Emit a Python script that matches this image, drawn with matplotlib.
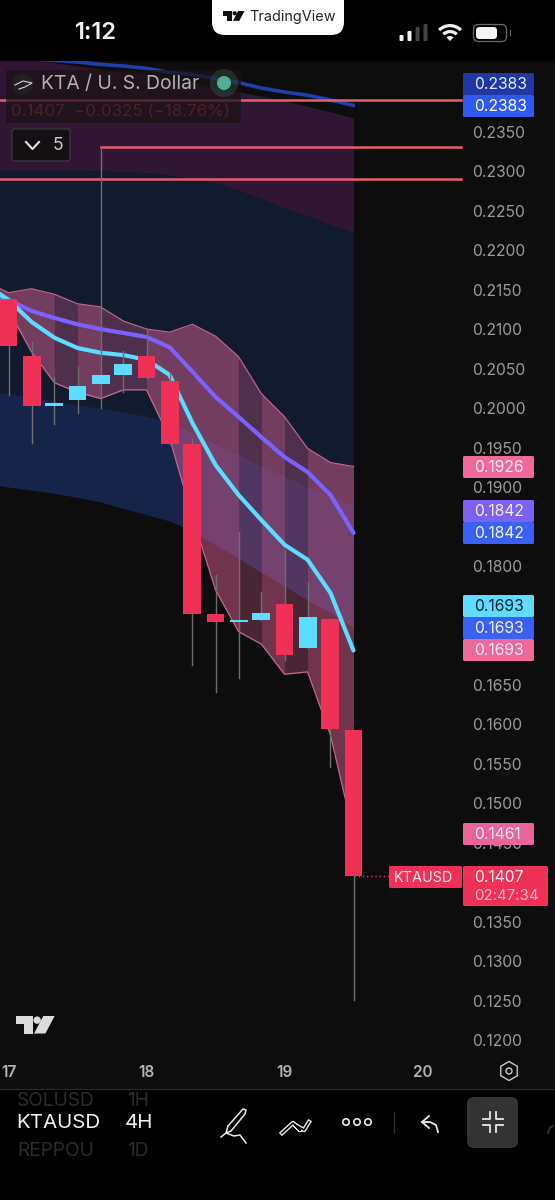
import matplotlib
matplotlib.use('Agg')
import matplotlib.pyplot as plt
from matplotlib.patches import Rectangle, FancyBboxPatch, Circle, Polygon, RegularPolygon, Arc, Wedge

plt.rcParams['font.family'] = ['Inter', 'DejaVu Sans']

# 4H candles
candle_days = [17.0, 17.167, 17.333, 17.5, 17.667, 17.833, 18.0, 18.167, 18.333, 18.5,
               18.667, 18.833, 19.0, 19.167, 19.333, 19.5]
opens = [.2138, .2066, .2003, .2010, .2030, .2042, .2066, .2034, .1954, .1739,
         .1729, .1732, .1752, .1696, .1733, .1592]
highs = [.2138, .2084, .2039, .2052, .2330, .2072, .2099, .2044, .1961, .1789,
         .1843, .1767, .1820, .1780, .1733, .1592]
lows = [.2016, .1956, .1980, .1994, .2000, .2020, .2038, .1954, .1675, .1641,
        .1658, .1732, .1681, .1696, .1546, .1251]
closes = [.2078, .2003, .2006, .2028, .2042, .2056, .2038, .1954, .1739, .1729,
          .1732, .1741, .1687, .1735, .1594, .1407]

# indicators, one extra point left of the first candle
ind_days = [16.833] + candle_days
bb_upper = [.2160, .2146, .2151, .2144, .2132, .2128, .2110, .2100, .2096, .2106,
            .2091, .2065, .2018, .1989, .1949, .1931, .1926]
bb_lower = [.2140, .2124, .2071, .2032, .2020, .2012, .2023, .2023, .1962, .1862,
            .1770, .1717, .1701, .1663, .1666, .1586, .1461]
ema_slow = [.2149, .2137, .2123, .2114, .2106, .2100, .2095, .2090, .2077, .2046,
            .2014, .1989, .1963, .1938, .1919, .1890, .1842]
ema_fast = [.2156, .2137, .2109, .2089, .2076, .2070, .2067, .2061, .2042, .1981,
            .1928, .1890, .1858, .1827, .1808, .1766, .1693]
blue_line = [.2444, .2443, .2442, .2440, .2438, .2435, .2433, .2430, .2425, .2422,
             .2417, .2412, .2405, .2400, .2396, .2390, .2383]
cloud_top = [.2447, .2443, .2441, .2437, .2433, .2429, .2425, .2422, .2417, .2412,
             .2405, .2400, .2395, .2389, .2382, .2375, .2367]
navy_top = [.2301, .2301, .2301, .2301, .2301, .2300, .2299, .2298, .2295, .2289,
            .2285, .2275, .2265, .2253, .2243, .2232, .2222]
bright_top = [.2023, .2018, .2013, .2009, .2004, .2000, .1995, .1990, .1982, .1968,
              .1954, .1941, .1927, .1914, .1900, .1889, .1877]
bright_low = [.1905, .1900, .1896, .1892, .1887, .1881, .1873, .1865, .1857, .1844,
              .1827, .1810, .1792, .1775, .1757, .1741, .1722]
dark_columns = [3, 5, 6, 11, 13]

# drawn levels: price, start day
levels = [.2390, .2330, .2290]
level_starts = [16.9, 17.667, 16.9]
level_end = 20.28

price_ticks = [.1200, .1250, .1300, .1350, .1450, .1500, .1550, .1600, .1650, .1800,
               .1900, .1950, .2000, .2050, .2100, .2150, .2200, .2250, .2300, .2350]
day_ticks = [17, 18, 19, 20]

label_texts = ['0.2383', '0.2383', '0.1926', '0.1842', '0.1842', '0.1693', '0.1693', '0.1693', '0.1461']
label_tops = [73, 95, 456, 500, 522, 595, 617, 639, 823]
label_colors = ['#1f38a6', '#3059ee', '#ee6a9b', '#7d62f2', '#3a61f2', '#5fdcff', '#3a61f2', '#ee6a9b', '#e9659a']
label_inks = ['#e8ecff', '#ffffff', '#ffe8f0', '#f2eeff', '#f0f3ff', '#06222e', '#f0f3ff', '#ffe8f0', '#ffe8f0']

RED = '#ef3157'
CYAN = '#5cdcff'

fig = plt.figure(figsize=(5.55, 12), dpi=100, facecolor='#000000')
ax = fig.add_axes([0, 0, 1, 1], facecolor='#0d0d0d')
ax.set_xlim(16.9384, 20.9601)
ax.set_ylim(.09975, .25165)
for s in ax.spines.values():
    s.set_visible(False)

# clouds
ax.fill_between(ind_days, navy_top, cloud_top, color='#311634', lw=0, zorder=1)
ax.fill_between(ind_days, bright_top, navy_top, color='#121a2e', lw=0, zorder=1)
ax.fill_between(ind_days, bright_low, bright_top, color='#16244a', lw=0, zorder=1)

# bollinger fill, shade changes per column
for i in range(len(ind_days) - 1):
    alpha = 0.27 if i in dark_columns else 0.44
    ax.fill_between(ind_days[i:i + 2], bb_lower[i:i + 2], bb_upper[i:i + 2],
                    color='#f06aa0', alpha=alpha, lw=0, zorder=2)
ax.plot(ind_days, bb_upper, color='#b9628f', lw=0.9, zorder=3)
ax.plot(ind_days, bb_lower, color='#c56a93', lw=0.9, zorder=3)

ax.plot(ind_days, blue_line, color='#1f3faa', lw=2.6, zorder=3, solid_capstyle='round')
for i in range(3):
    ax.plot([level_starts[i], level_end], [levels[i], levels[i]], color='#e4606a', lw=1.8, zorder=3)

ax.plot(ind_days, ema_slow, color='#7b61ff', lw=3.0, zorder=4, solid_capstyle='round')
ax.plot(ind_days, ema_fast, color=CYAN, lw=3.0, zorder=4, solid_capstyle='round')

# candles
for d, o, h, l, c in zip(candle_days, opens, highs, lows, closes):
    col = CYAN if c > o else RED
    ax.plot([d, d], [l, h], color='#6f6f6f', lw=1.0, zorder=5)
    ax.bar(d, abs(c - o), bottom=min(o, c), width=0.13, color=col, lw=0, zorder=6)

ax.plot([19.5, 19.76], [closes[-1], closes[-1]], color=RED, lw=1.0, ls=(0, (1, 2)), zorder=3)

ax.yaxis.tick_right()
ax.set_yticks(price_ticks)
ax.set_yticklabels(['%.4f' % p for p in price_ticks])
ax.tick_params(axis='y', length=0, pad=-59.6, labelsize=11.3, labelcolor='#9a9a9a')
ax.set_xticks(day_ticks)
ax.set_xticklabels([str(d) for d in day_ticks], fontweight='semibold')
ax.tick_params(axis='x', length=0, pad=-97.5, labelsize=11, labelcolor='#b4b4b4')

# everything around the chart, in screen pixels
ui = fig.add_axes([0, 0, 1, 1], facecolor='none')
ui.set_xlim(0, 555)
ui.set_ylim(1200, 0)
ui.axis('off')


def tv_logo(x, y, s, col):
    ui.add_patch(Polygon([(x, y), (x + 17 * s, y), (x + 17 * s, y + 17 * s), (x + 8 * s, y + 17 * s),
                          (x + 8 * s, y + 8 * s), (x, y + 8 * s)], color=col, lw=0))
    ui.add_patch(Circle((x + 21 * s, y + 4 * s), 3.6 * s, color=col, lw=0))
    ui.add_patch(Polygon([(x + 27 * s, y), (x + 38 * s, y), (x + 29 * s, y + 17 * s), (x + 18 * s, y + 17 * s)],
                         color=col, lw=0))


ui.add_patch(Rectangle((0, 0), 555, 61, color='#000000', lw=0))
ui.add_patch(Rectangle((0, 1089), 555, 111, color='#000000', lw=0))
ui.plot([0, 555], [1088.5, 1088.5], color='#2b2b2b', lw=0.8)

# status bar
ui.text(96, 33, '1:12', color='#f4f4f4', fontsize=17, fontweight='semibold', ha='center', va='center')
ui.add_patch(FancyBboxPatch((212, -20), 132, 55, boxstyle='round,pad=0,rounding_size=13', color='#ffffff', lw=0))
tv_logo(222.5, 11, 0.58, '#111111')
ui.text(249, 16.5, 'TradingView', color='#222222', fontsize=10.4, ha='left', va='center')
for bx, bt, bc in zip([399.5, 407.5, 415.5, 423.5], [35, 31, 27, 24], ['#f0f0f0', '#f0f0f0', '#444444', '#444444']):
    ui.add_patch(FancyBboxPatch((bx, bt), 4, 41 - bt, boxstyle='round,pad=0,rounding_size=1', color=bc, lw=0))
for wr, ww in zip([17, 11, 5], [3.2, 3.2, 5]):
    ui.add_patch(Wedge((450, 41), wr, 225, 315, width=ww, color='#f0f0f0', lw=0))
ui.add_patch(FancyBboxPatch((473.5, 24.5), 33, 17, boxstyle='round,pad=0,rounding_size=5', fc='none', ec='#6a6a6a', lw=0.9))
ui.add_patch(FancyBboxPatch((476, 27), 21, 12, boxstyle='round,pad=0,rounding_size=3.5', color='#f4f4f4', lw=0))
ui.add_patch(Rectangle((509.5, 30), 1.6, 6, color='#6a6a6a', lw=0))

# legend
ui.add_patch(Rectangle((6, 70), 235, 53, color='#1a1216', alpha=0.72, lw=0))
ui.add_patch(Circle((23, 84), 10.5, color='#241e22', lw=0))
ui.plot([15, 23, 32, 25, 19], [85, 81, 83, 87, 89], color='#d8d8d8', lw=0.8)
ui.text(41, 84, 'KTA / U. S. Dollar', color='#b3b3b3', fontsize=13.9, ha='left', va='center')
ui.add_patch(Circle((224, 83), 14, color='#4fae93', alpha=0.18, lw=0))
ui.add_patch(Circle((224, 83), 7, color='#4fae93', lw=0))
ui.text(11, 112, '0.1407  \u22120.0325 (\u221218.76%)', color='#4e1f27', fontsize=12.2, ha='left', va='center')
ui.add_patch(FancyBboxPatch((12, 129), 58, 32, boxstyle='round,pad=0,rounding_size=3', fc='#130f12', ec='#3a3a3a', lw=0.9))
ui.plot([26, 32.5, 39], [142, 149, 142], color='#e4e4e4', lw=1.5)
ui.text(58, 145.5, '5', color='#cccccc', fontsize=12.6, ha='center', va='center')

# price scale labels
for txt, top, col, ink in zip(label_texts, label_tops, label_colors, label_inks):
    ui.add_patch(FancyBboxPatch((463, top), 71, 22, boxstyle='round,pad=0,rounding_size=1.5', color=col, lw=0))
    ui.text(474, top + 11.5, txt, color=ink, fontsize=11.3, ha='left', va='center')
ui.add_patch(FancyBboxPatch((389, 866), 73, 22, boxstyle='round,pad=0,rounding_size=1.5', color=RED, lw=0))
ui.text(394, 877.5, 'KTAUSD', color='#ffe8ee', fontsize=10.4, ha='left', va='center')
ui.add_patch(FancyBboxPatch((463, 866), 85, 40, boxstyle='round,pad=0,rounding_size=1.5', color=RED, lw=0))
ui.text(474, 877.5, '0.1407', color='#fff0f3', fontsize=11.3, ha='left', va='center')
ui.text(474, 896, '02:47:34', color='#ffb6c6', fontsize=10.8, ha='left', va='center')

# chart corner
tv_logo(15.5, 1016, 1.03, '#dcdcdc')
ui.add_patch(RegularPolygon((509, 1071), 6, radius=9.5, orientation=0.5236 + 1.0472 / 2, fc='none', ec='#c8c8c8', lw=1.0))
ui.add_patch(Circle((509, 1071), 3, fc='none', ec='#c8c8c8', lw=1.0))

# bottom toolbar
ui.text(16, 1123, 'KTAUSD', color='#f2f2f2', fontsize=14.8, ha='left', va='center')
ui.text(125, 1123, '4H', color='#f2f2f2', fontsize=14.8, ha='left', va='center')
ui.text(17, 1101, 'SOLUSD', color='#2c2c2c', fontsize=13.8, ha='left', va='center')
ui.text(127, 1101, '1H', color='#2c2c2c', fontsize=13.8, ha='left', va='center')
ui.text(17, 1151, 'REPPOU', color='#2c2c2c', fontsize=13.8, ha='left', va='center')
ui.text(127, 1151, '1D', color='#2c2c2c', fontsize=13.8, ha='left', va='center')
ui.add_patch(Rectangle((101, 1090), 20, 70, color='#000000', lw=0))

ui.plot([228, 243, 246, 245, 231, 226, 228], [1126, 1109, 1110, 1114, 1131, 1133, 1126], color='#e8e8e8', lw=1.1)
ui.plot([221, 226, 234, 240, 246], [1137, 1133, 1136, 1135, 1143], color='#e8e8e8', lw=1.1)
ui.plot([282, 293, 300, 295, 304, 309], [1133, 1123, 1130, 1125, 1130, 1122], color='#e8e8e8', lw=3.2, solid_joinstyle='round')
ui.plot([282, 293, 300, 295, 304, 309], [1133, 1123, 1130, 1125, 1130, 1122], color='#000000', lw=1.2, solid_joinstyle='round')
for dx in [346, 357, 368]:
    ui.add_patch(Circle((dx, 1122), 3.2, fc='none', ec='#e8e8e8', lw=1.2))
ui.plot([394, 394], [1112, 1133], color='#2e2e2e', lw=1.0)
ui.plot([429, 422, 429], [1116, 1122, 1128], color='#e8e8e8', lw=1.3)
ui.plot([422, 430, 436, 438], [1122, 1122, 1125, 1132], color='#e8e8e8', lw=1.3)
ui.add_patch(FancyBboxPatch((467, 1097), 51, 51, boxstyle='round,pad=0,rounding_size=7', color='#333333', lw=0))
for sx, sy in [(-1, -1), (1, -1), (-1, 1), (1, 1)]:
    ui.plot([492.5 + sx * 10, 492.5 + sx * 3, 492.5 + sx * 3],
            [1122 + sy * 3, 1122 + sy * 3, 1122 + sy * 10], color='#e8e8e8', lw=1.3)
ui.add_patch(Arc((554, 1134), 12, 16, theta1=180, theta2=270, color='#333333', lw=1.3))

fig.savefig('out.png', dpi=100, facecolor=fig.get_facecolor())
